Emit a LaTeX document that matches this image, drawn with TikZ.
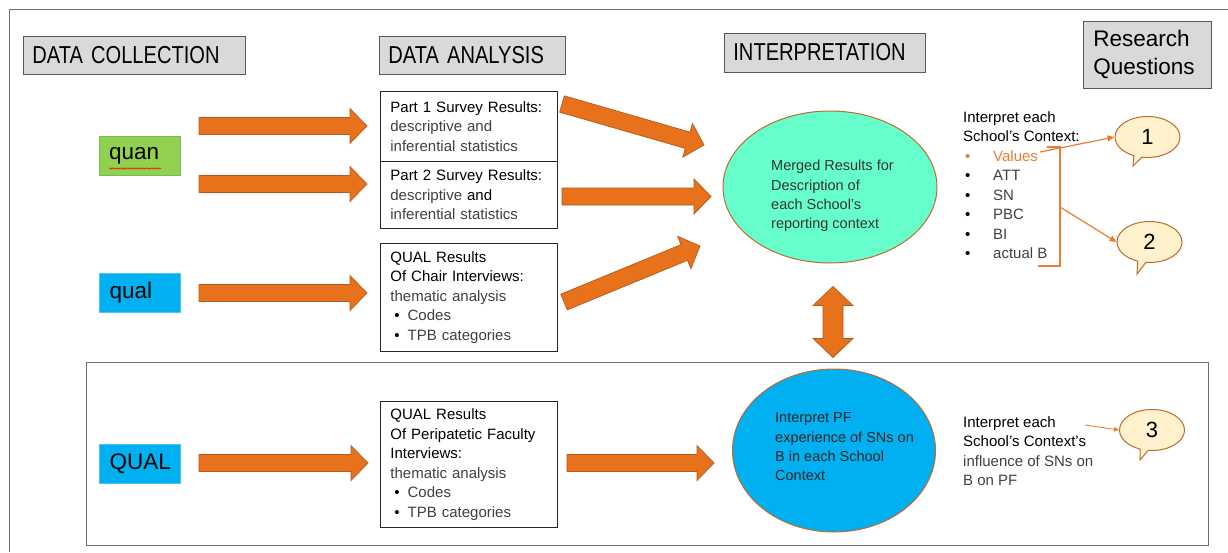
\documentclass[tikz,border=0pt]{standalone}
\usepackage{fontspec}
\setmainfont{Liberation Sans}
\newfontfamily\headfont[FakeStretch=0.82]{Liberation Sans}
\usetikzlibrary{calc,shapes.geometric,shapes.callouts,arrows.meta,decorations.pathmorphing}

\definecolor{hdrfill}{HTML}{D9D9D9}
\definecolor{hdredge}{HTML}{595959}
\definecolor{quanfill}{HTML}{92D050}
\definecolor{quanedge}{HTML}{6DBE5A}
\definecolor{qualfill}{HTML}{00B0F0}
\definecolor{qualedge}{HTML}{4CC8F2}
\definecolor{arrfill}{HTML}{E8711B}
\definecolor{arredge}{HTML}{B55A1C}
\definecolor{mergefill}{HTML}{66FFCC}
\definecolor{elledge}{HTML}{BE6A2E}
\definecolor{bubfill}{HTML}{FFF2CC}
\definecolor{accent}{HTML}{ED7D31}
\definecolor{bodygray}{HTML}{404040}
\definecolor{framegray}{HTML}{6F6F6F}

\tikzset{
  header/.style={draw=hdredge, fill=hdrfill, line width=0.8pt, anchor=west,
    font=\headfont\fontsize{24.5}{28}\selectfont, minimum height=38pt,
    inner xsep=9pt, align=left},
  tagbox/.style={line width=0.8pt, minimum width=81pt, minimum height=39pt,
    text width=61pt, inner xsep=10pt, align=left,
    font=\fontsize{22.5}{26}\selectfont},
  resultbox/.style={draw=black!85, line width=0.8pt, fill=white, anchor=north west,
    minimum width=177pt, text width=157pt, inner xsep=10pt, align=left,
    font=\fontsize{15}{19.5}\selectfont, text=bodygray},
  sidetext/.style={anchor=west, inner sep=0pt, align=left,
    font=\fontsize{15}{19.5}\selectfont, text=bodygray},
  elltext/.style={anchor=west, inner sep=0pt, align=left,
    font=\fontsize{14.5}{19.3}\selectfont},
  bubble/.style={ellipse callout, fill=bubfill, draw=elledge, line width=1pt,
    minimum width=65pt, minimum height=41pt, font=\fontsize{22}{26}\selectfont},
  thinarrow/.style={draw=accent, line width=1.2pt, -{Triangle[length=7pt,width=6pt]}},
  blockfill/.style={draw=arredge, fill=arrfill, line width=0.7pt, line join=miter},
  % straight block arrow drawn between two named points
  blockarrow/.style={blockfill,
    to path={
      ($(\tikztotarget)!17pt!(\tikztostart)$) coordinate (babase)
      ($(\tikztostart)!8.5pt!90:(\tikztotarget)$)
      -- ($(babase)!8.5pt!90:(\tikztotarget)$)
      -- ($(babase)!17.5pt!90:(\tikztotarget)$)
      -- (\tikztotarget)
      -- ($(babase)!17.5pt!-90:(\tikztotarget)$)
      -- ($(babase)!8.5pt!-90:(\tikztotarget)$)
      -- ($(\tikztostart)!8.5pt!-90:(\tikztotarget)$)
      -- cycle}}
}

\begin{document}
\begin{tikzpicture}[x=1pt,y=-1pt]
\useasboundingbox (0,0) rectangle (1228,552);

% outer and inner frames
\draw[framegray, line width=1pt] (9,552) -- (9,9) -- (1228,9);
\draw[framegray, line width=1pt] (86,362) rectangle (1208,545);

% column headers
\node[header, text width=204pt] (hcoll) at (23,55) {DATA COLLECTION};
\node[header, text width=168pt] (hanal) at (379,55) {DATA ANALYSIS};
\node[header, text width=183pt, minimum height=39pt] (hinterp) at (724,52.5) {INTERPRETATION};
\node[header, text width=108pt, inner xsep=10pt, minimum height=67pt,
      font=\fontsize{22.5}{28}\selectfont] (hrq) at (1083,54.5) {Research\\Questions};

% data collection strands
\node[tagbox, fill=quanfill, draw=quanedge] (quan) at (139.5,156) {quan};
\draw[red, line width=0.5pt, decorate,
      decoration={snake, amplitude=0.7pt, segment length=2.6pt}] (109,168.5) -- (161,168.5);
\node[tagbox, fill=qualfill, draw=qualedge] (qual) at (140,292.5) {qual};
\node[tagbox, fill=qualfill, draw=qualedge] (bigqual) at (140,463.5) {QUAL};

% analysis boxes
\node[resultbox, minimum height=70pt] (part1) at (380,91)
  {\textcolor{black}{Part 1 Survey Results:}\\descriptive and\\inferential statistics};
\node[resultbox, minimum height=67pt] (part2) at (380,161)
  {\textcolor{black}{Part 2 Survey Results:}\\descriptive \textcolor{black}{and}\\inferential statistics};
\node[resultbox, minimum height=108pt] (chair) at (380,243)
  {\textcolor{black}{QUAL Results}\\\textcolor{black}{Of Chair Interviews:}\\thematic analysis\\
   \hspace*{4pt}\textcolor{black}{•}\hspace{8pt}Codes\\\hspace*{4pt}\textcolor{black}{•}\hspace{8pt}TPB categories};
\node[resultbox, minimum height=126pt] (peri) at (380,401)
  {\textcolor{black}{QUAL Results}\\\textcolor{black}{Of Peripatetic Faculty}\\\textcolor{black}{Interviews:}\\thematic analysis\\
   \hspace*{4pt}\textcolor{black}{•}\hspace{8pt}Codes\\\hspace*{4pt}\textcolor{black}{•}\hspace{8pt}TPB categories};

% interpretation ellipses
\node[ellipse, fill=mergefill, draw=elledge, line width=1pt,
      minimum width=214pt, minimum height=152pt] (merged) at (830,187) {};
\node[elltext, text=black!80] (mergedtxt) at (771,196)
  {Merged Results for\\Description of\\each School’s\\reporting context};
\node[ellipse, fill=qualfill, draw=elledge, line width=1pt,
      minimum width=203pt, minimum height=163pt] (pfell) at (834,450.5) {};
\node[elltext, text=black!85] (pftxt) at (775,447)
  {Interpret PF\\experience of SNs on\\B in each School\\Context};

% arrow end points
\coordinate (a1s) at (199,126);  \coordinate (a1e) at (367,126);
\coordinate (a2s) at (199,184);  \coordinate (a2e) at (367,184);
\coordinate (a3s) at (199,293);  \coordinate (a3e) at (367,293);
\coordinate (a4s) at (199,463);  \coordinate (a4e) at (368,463);
\coordinate (d1s) at (562,104);  \coordinate (d1e) at (704,145);
\coordinate (d2s) at (562,196.5);\coordinate (d2e) at (711,196.5);
\coordinate (d3s) at (564,302);  \coordinate (d3e) at (700,246);
\coordinate (b1s) at (567,463);  \coordinate (b1e) at (714,463);

\draw[blockarrow] (a1s) to (a1e);
\draw[blockarrow] (a2s) to (a2e);
\draw[blockarrow] (a3s) to (a3e);
\draw[blockarrow] (a4s) to (a4e);
\draw[blockarrow] (d1s) to (d1e);
\draw[blockarrow] (d2s) to (d2e);
\draw[blockarrow] (d3s) to (d3e);
\draw[blockarrow] (b1s) to (b1e);

% two-way arrow between the ellipses
\coordinate (dtop) at ($(merged.south)+(3,23)$);
\coordinate (dbot) at ($(pfell.north)+(-1,-11)$);
\filldraw[blockfill] (dtop) -- ($(dtop)+(20,19)$) -- ($(dtop)+(10,19)$)
  -- ($(dbot)+(10,-19)$) -- ($(dbot)+(20,-19)$) -- (dbot)
  -- ($(dbot)+(-20,-19)$) -- ($(dbot)+(-10,-19)$)
  -- ($(dtop)+(-10,19)$) -- ($(dtop)+(-20,19)$) -- cycle;

% school context lists
\node[sidetext] (ctxlist) at (963,185)
  {\textcolor{black}{Interpret each}\\\textcolor{black}{School’s Context:}\\
   \hspace*{2pt}\textcolor{accent}{\makebox[28pt][l]{•}Values}\\
   \hspace*{2pt}\textcolor{black}{\makebox[28pt][l]{•}}ATT\\
   \hspace*{2pt}\textcolor{black}{\makebox[28pt][l]{•}}SN\\
   \hspace*{2pt}\textcolor{black}{\makebox[28pt][l]{•}}PBC\\
   \hspace*{2pt}\textcolor{black}{\makebox[28pt][l]{•}}BI\\
   \hspace*{2pt}\textcolor{black}{\makebox[28pt][l]{•}}actual B};
\node[sidetext] (ctxpf) at (963,451)
  {\textcolor{black}{Interpret each}\\\textcolor{black}{School’s Context’s}\\influence of SNs on\\B on PF};

% research question bubbles
\node[bubble, callout absolute pointer={(1133,166)}] (rq1) at (1147.5,137) {1};
\node[bubble, callout absolute pointer={(1137,274)}] (rq2) at (1149.5,242) {2};
\node[bubble, callout absolute pointer={(1140,460)}] (rq3) at (1152,430) {3};

% bracket and links to the questions
\draw[accent, line width=1.3pt] (1047,147) -- (1060,147) -- (1060,266) -- (1038,266);
\coordinate (brmid) at (1060,207);
\coordinate (valstart) at (1040,152);
\coordinate (pfstart) at (1085,425);
\draw[thinarrow] (valstart) -- (rq1.west);
\draw[thinarrow] (brmid) -- (rq2.west);
\draw[thinarrow, line width=0.9pt, -{Triangle[length=5pt,width=4.5pt]}] (pfstart) -- (rq3.west);
\end{tikzpicture}
\end{document}
